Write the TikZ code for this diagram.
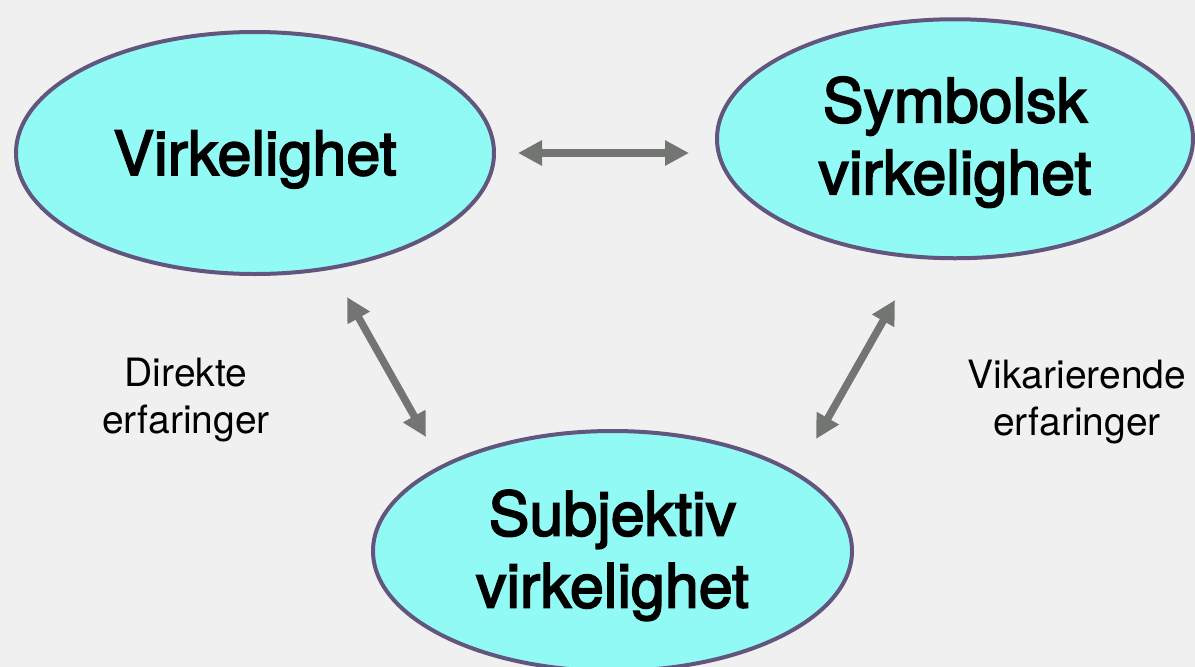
\documentclass[tikz,border=0pt]{standalone}
\usepackage{fontspec}
\setmainfont{TeX Gyre Heros}
\newfontfamily\medfont[FakeBold=2.8]{TeX Gyre Heros}
\usetikzlibrary{arrows.meta,shapes.geometric}
\definecolor{bgc}{RGB}{240,240,240}
\definecolor{fillc}{RGB}{146,250,245}
\definecolor{edgec}{RGB}{98,86,126}
\definecolor{arrc}{RGB}{115,117,115}
\newcommand{\tp}[1]{\rule{0pt}{#1pt}}
\newcommand{\bt}{\rule[-20pt]{0pt}{20pt}}
\begin{document}
\begin{tikzpicture}[x=1pt,y=-1pt,
 oval/.style={ellipse, draw=edgec, line width=4pt, fill=fillc, inner sep=0pt, align=center, font=\medfont\fontsize{61}{72}\selectfont},
 biarrow/.style={draw=arrc, line width=7.5pt, {Triangle[length=24pt,width=24pt]}-{Triangle[length=24pt,width=24pt]}},
 note/.style={inner sep=0pt, align=center, anchor=north, font=\fontsize{39}{47}\selectfont}]
\fill[bgc] (0,0) rectangle (1195,667);
\useasboundingbox (0,0) rectangle (1195,667);
\clip (0,0) rectangle (1195,667);
\node[oval, minimum width=478pt, minimum height=242pt] (real) at (255,153) {\tp{64}Virkelighet\bt};
\node[oval, minimum width=476pt, minimum height=239pt] (symb) at (955,138.75) {\tp{59}Symbolsk\\virkelighet\bt};
\node[oval, minimum width=479pt, minimum height=240pt] (subj) at (612.5,551) {\tp{61}Subjektiv\\virkelighet\bt};
\node[note] (direkte) at (186,356) {\tp{30}Direkte\\erfaringer};
\node[note] (vikar) at (1077,358) {\tp{30}Vikarierende\\erfaringer};
\coordinate (h1) at (518,153);
\coordinate (h2) at (689,153);
\coordinate (l1) at (347,297);
\coordinate (l2) at (426,437);
\coordinate (r1) at (895,300);
\coordinate (r2) at (816,439);
\draw[biarrow] (h1) -- (h2);
\draw[biarrow] (l1) -- (l2);
\draw[biarrow] (r1) -- (r2);
\end{tikzpicture}
\end{document}
